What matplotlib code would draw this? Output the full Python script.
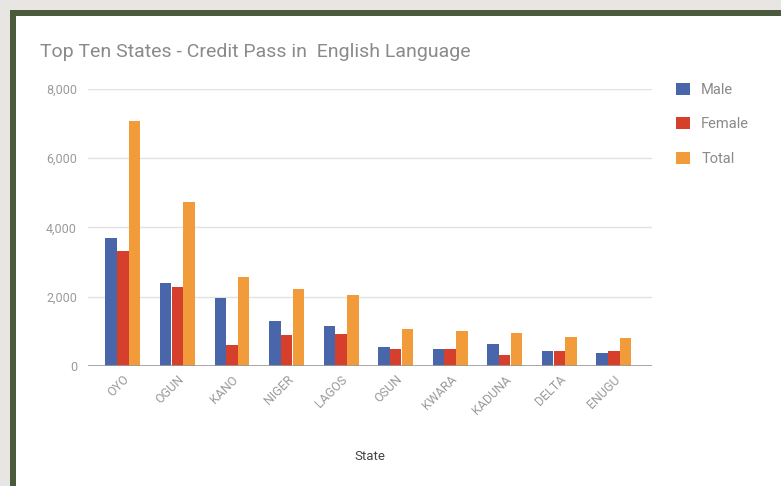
import numpy as np
import matplotlib.pyplot as plt
from matplotlib.patches import Rectangle

# 数据
states = ['OYO', 'OGUN', 'KANO', 'NIGER', 'LAGOS', 'OSUN', 'KWARA', 'KADUNA', 'DELTA', 'ENUGU']
male = [3710, 2410, 1965, 1310, 1155, 560, 500, 636, 425, 385]
female = [3330, 2290, 600, 890, 925, 480, 500, 330, 425, 425]
total = [7080, 4750, 2560, 2235, 2060, 1080, 1000, 960, 850, 810]

plt.rcParams['font.family'] = ['Roboto', 'DejaVu Sans']

fig = plt.figure(figsize=(7.81, 4.86), dpi=100)
fig.patch.set_facecolor('white')

# 背景边框
W, H = 781, 486
fig.patches.append(Rectangle((0, 0), 1, 1, transform=fig.transFigure,
                             facecolor='#e7e6e2', edgecolor='none', zorder=-3))
fig.patches.append(Rectangle((10 / W, 0), 1, 1 - 10 / H, transform=fig.transFigure,
                             facecolor='#4b5a3d', edgecolor='none', zorder=-2))
fig.patches.append(Rectangle((16 / W, 0), 1, 1 - 16 / H, transform=fig.transFigure,
                             facecolor='white', edgecolor='none', zorder=-1))

ax = fig.add_axes([88 / W, 1 - 366 / H, (652 - 88) / W, (366 - 89) / H])
ax.set_facecolor('none')

x = np.arange(len(states))
w = 0.215
colors = ['#4a66aa', '#d63f2c', '#f29b3a']
for i, (vals, lab) in enumerate(zip([male, female, total], ['Male', 'Female', 'Total'])):
    ax.bar(x + (i - 1) * w, vals, width=w * 0.97, color=colors[i], label=lab, zorder=3)

ax.set_xlim(-0.64, 9.7)
ax.set_ylim(0, 8000)
ax.set_yticks([0, 2000, 4000, 6000, 8000])
ax.set_yticklabels(['0', '2,000', '4,000', '6,000', '8,000'])
ax.grid(axis='y', color='#e2e2e2', linewidth=1, zorder=0)
ax.axhline(0, color='#9a9a9a', linewidth=1.2, zorder=4)
for s in ax.spines.values():
    s.set_visible(False)
ax.tick_params(axis='both', length=0, colors='#9a9a9a', labelsize=9)
ax.tick_params(axis='y', pad=8)
ax.set_xticks(x)
ax.set_xticklabels(states, rotation=45, ha='right', rotation_mode='anchor')
ax.tick_params(axis='x', pad=5)
ax.set_xlabel('State', color='#444444', fontsize=9.5, labelpad=24)

fig.text(40 / W, 1 - 52 / H, 'Top Ten States - Credit Pass in  English Language',
         color='#8a8a8a', fontsize=14, va='center', ha='left')

ax.legend(loc='upper left', bbox_to_anchor=(1.02, 1.07), frameon=False,
          labelcolor='#8a8a8a', fontsize=10.5, handlelength=0.9, handleheight=0.9,
          labelspacing=1.4, handletextpad=0.8)

fig.savefig('out.png', dpi=100)
